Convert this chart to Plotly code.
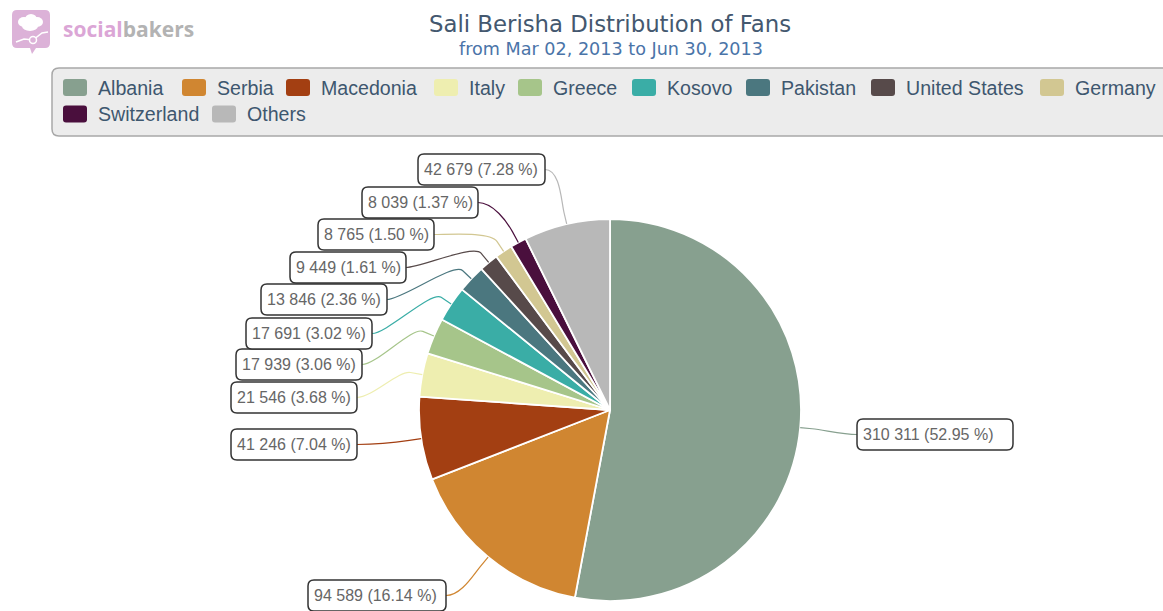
import math
import plotly.graph_objects as go

# Fans by country
countries = ["Albania", "Serbia", "Macedonia", "Italy", "Greece", "Kosovo",
             "Pakistan", "United States", "Germany", "Switzerland", "Others"]
fans = [310311, 94589, 41246, 21546, 17939, 17691, 13846, 9449, 8765, 8039, 42679]
colors = ["#87a08f", "#d08631", "#a33f12", "#eeeeb0", "#a6c58a", "#3aada6",
          "#4b777f", "#574a4a", "#d2c792", "#4a0f3d", "#b8b8b8"]

title_text = "Sali Berisha Distribution of Fans"
subtitle_text = "from Mar 02, 2013 to Jun 30, 2013"

W, H = 1163, 611
CX, CY, R = 610, 410, 191          # pie centre and radius in pixels

# label boxes: (left, top, width) in pixels, one per slice
label_boxes = [(857, 419, 156), (308, 580, 138), (231, 429, 126), (231, 382, 126),
               (236, 349, 126), (246, 318, 126), (261, 284, 126), (290, 252, 116),
               (318, 219, 116), (362, 187, 116), (418, 154, 127)]
BOX_H = 31

# legend layout: (symbol left, row centre y) in pixels
legend_pos = [(63, 87.5), (182, 87.5), (286, 87.5), (434, 87.5), (518, 87.5),
              (632, 87.5), (746, 87.5), (871, 87.5), (1040, 87.5),
              (63, 114), (212, 114)]


def px(x):
    return x / W


def py(y):
    return 1 - y / H


def rounded_rect(x0, y0, x1, y1, r):
    return (f"M{px(x0 + r)},{py(y0)} L{px(x1 - r)},{py(y0)} "
            f"Q{px(x1)},{py(y0)} {px(x1)},{py(y0 + r)} "
            f"L{px(x1)},{py(y1 - r)} Q{px(x1)},{py(y1)} {px(x1 - r)},{py(y1)} "
            f"L{px(x0 + r)},{py(y1)} Q{px(x0)},{py(y1)} {px(x0)},{py(y1 - r)} "
            f"L{px(x0)},{py(y0 + r)} Q{px(x0)},{py(y0)} {px(x0 + r)},{py(y0)} Z")


fig = go.Figure()

fig.add_trace(go.Pie(
    labels=countries, values=fans, sort=False, direction="clockwise", rotation=0,
    marker=dict(colors=colors, line=dict(color="white", width=1.8)),
    textinfo="none", textposition="none", showlegend=False,
    domain=dict(x=[px(CX - R), px(CX + R)], y=[py(CY + R), py(CY - R)]),
    hovertemplate="%{label}: %{value} (%{percent})<extra></extra>",
))

shapes = []
annotations = []

# data labels with connectors
total = sum(fans)
cum = 0
for name, v, col, (bx, by, bw) in zip(countries, fans, colors, label_boxes):
    mid = (cum + v / 2) / total
    cum += v
    th = 2 * math.pi * mid
    sx, sy = math.sin(th), -math.cos(th)
    ex, ey = CX + R * sx, CY + R * sy
    off = 12
    p1x, p1y = CX + (R + off) * sx, CY + (R + off) * sy
    c2x, c2y = 2 * p1x - ex, 2 * p1y - ey
    cyb = by + BOX_H / 2
    if sx >= 0:
        ax, c1x = bx, bx - 15
    else:
        ax, c1x = bx + bw, bx + bw + 15
    path = (f"M{px(ax)},{py(cyb)} C{px(c1x)},{py(cyb)} {px(c2x)},{py(c2y)} "
            f"{px(p1x)},{py(p1y)} L{px(ex)},{py(ey)}")
    shapes.append(dict(type="path", xref="paper", yref="paper", path=path,
                       line=dict(color=col, width=1.2), layer="above"))
    shapes.append(dict(type="path", xref="paper", yref="paper",
                       path=rounded_rect(bx, by, bx + bw, by + BOX_H, 6),
                       fillcolor="white", line=dict(color="#333333", width=1.5),
                       layer="above"))
    pct = v / total * 100
    txt = f"{v:,}".replace(",", " ") + f" ({pct:.2f} %)"
    annotations.append(dict(x=px(bx + 4), y=py(cyb), xref="paper", yref="paper",
                            text=txt, showarrow=False, xanchor="left", yanchor="middle",
                            font=dict(family="Liberation Sans, Arial", size=16, color="#666666")))

# legend panel
shapes.append(dict(type="path", xref="paper", yref="paper",
                   path=rounded_rect(52, 68, 1180, 136, 7),
                   fillcolor="#ececec", line=dict(color="#a8a8a8", width=1.5), layer="below"))
for name, col, (lx, ly) in zip(countries, colors, legend_pos):
    shapes.append(dict(type="path", xref="paper", yref="paper",
                       path=rounded_rect(lx, ly - 8.5, lx + 24, ly + 8.5, 3),
                       fillcolor=col, line=dict(width=0), layer="above"))
    annotations.append(dict(x=px(lx + 33), y=py(ly), xref="paper", yref="paper",
                            text=name, showarrow=False, xanchor="left", yanchor="middle",
                            font=dict(family="Liberation Sans, Arial", size=19.6, color="#3e576f")))

# title and subtitle
annotations.append(dict(x=px(610), y=py(24), xref="paper", yref="paper", text=title_text,
                        showarrow=False, xanchor="center", yanchor="middle",
                        font=dict(family="DejaVu Sans", size=22.8, color="#44586f")))
annotations.append(dict(x=px(611), y=py(49), xref="paper", yref="paper", text=subtitle_text,
                        showarrow=False, xanchor="center", yanchor="middle",
                        font=dict(family="DejaVu Sans", size=17.6, color="#4a74a8")))

# socialbakers badge
shapes.append(dict(type="path", xref="paper", yref="paper",
                   path=(f"M{px(17)},{py(10)} L{px(45)},{py(10)} Q{px(50)},{py(10)} {px(50)},{py(15)} "
                         f"L{px(50)},{py(43)} Q{px(50)},{py(48)} {px(45)},{py(48)} "
                         f"L{px(36)},{py(48)} L{px(32)},{py(54)} L{px(30)},{py(48)} "
                         f"L{px(17)},{py(48)} Q{px(12)},{py(48)} {px(12)},{py(43)} "
                         f"L{px(12)},{py(15)} Q{px(12)},{py(10)} {px(17)},{py(10)} Z"),
                   fillcolor="#dcb2d8", line=dict(width=0)))
for (x0, y0, x1, y1) in [(18, 17, 30, 27), (25, 14, 37, 25), (31, 17, 43, 27), (22, 21, 38, 31)]:
    shapes.append(dict(type="circle", xref="paper", yref="paper",
                       x0=px(x0), x1=px(x1), y0=py(y1), y1=py(y0),
                       fillcolor="white", line=dict(width=0)))
shapes.append(dict(type="path", xref="paper", yref="paper",
                   path=f"M{px(16)},{py(42)} L{px(24)},{py(39)} L{px(33)},{py(40)} L{px(42)},{py(33)} L{px(48)},{py(32)}",
                   line=dict(color="white", width=1.5)))
shapes.append(dict(type="circle", xref="paper", yref="paper",
                   x0=px(29.5), x1=px(36.5), y0=py(43.5), y1=py(36.5),
                   fillcolor="#dcb2d8", line=dict(color="white", width=1.5)))
annotations.append(dict(x=px(61), y=py(29), xref="paper", yref="paper",
                        text="<b><span style='color:#dba6d6'>social</span>"
                             "<span style='color:#b3b3b3'>bakers</span></b>",
                        showarrow=False, xanchor="left", yanchor="middle",
                        font=dict(family="Open Sans, Liberation Sans", size=21)))

fig.update_layout(
    width=W, height=H, margin=dict(l=0, r=0, t=0, b=0),
    paper_bgcolor="white", plot_bgcolor="white",
    shapes=shapes, annotations=annotations, showlegend=False,
)

fig.write_html("out.html")
